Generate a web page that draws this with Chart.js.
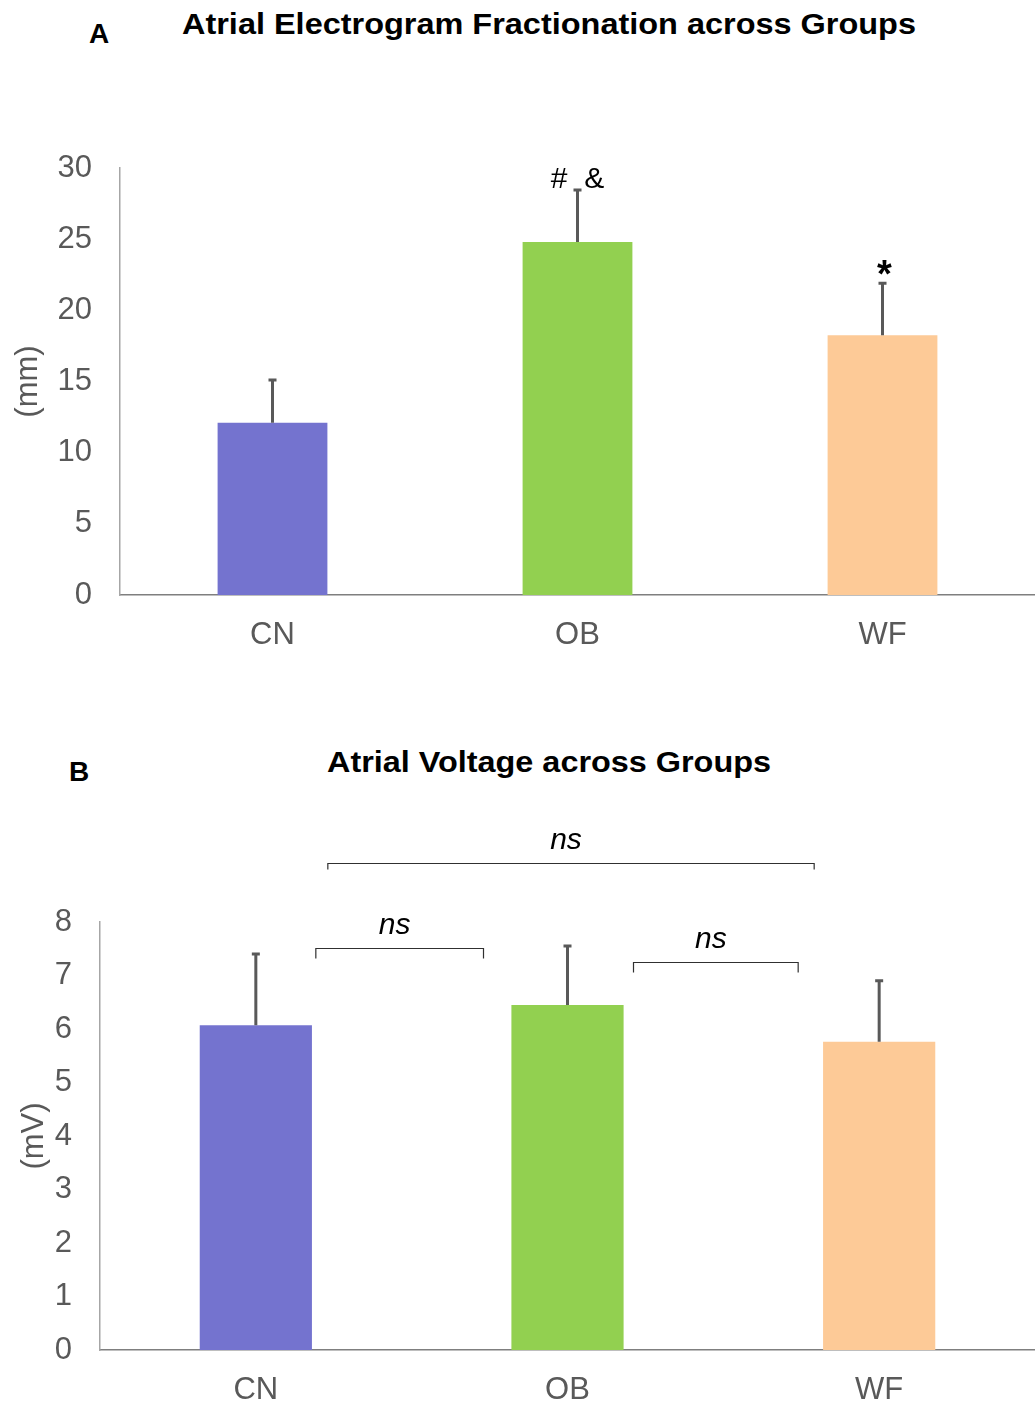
<!DOCTYPE html>
<html lang="en">
<head>
<meta charset="UTF-8">
<title>Atrial Electrogram Fractionation and Voltage</title>
<script src="https://cdn.jsdelivr.net/npm/chart.js"></script>
<style>
    body {
        margin: 0;
        background: #ffffff;
        font-family: "Liberation Sans", Arial, sans-serif;
    }
    .page {
        position: relative;
        width: 1035px;
        height: 1409px;
        overflow: hidden;
    }
    .panel {
        position: absolute;
        left: 0;
        width: 1035px;
    }
    .letter, .title {
        position: absolute;
        font-weight: bold;
        color: #000;
        white-space: nowrap;
        line-height: 1;
    }
    .letter { font-size: 28px; }
    .title { font-size: 29px; transform-origin: left top; }
</style>
</head>
<body>
<div class="page">
    <div class="letter" style="left:89px; top:20px;">A</div>
    <div class="title" id="titleA" data-w="734" style="left:182px; top:10px;">Atrial Electrogram Fractionation across Groups</div>
    <div class="panel" style="top:0; height:700px;"><canvas id="chartA" width="1035" height="700"></canvas></div>

    <div class="letter" style="left:69px; top:758px;">B</div>
    <div class="title" id="titleB" data-w="444" style="left:327px; top:748px;">Atrial Voltage across Groups</div>
    <div class="panel" style="top:700px; height:709px;"><canvas id="chartB" width="1035" height="709"></canvas></div>
</div>

<script>
    // Datos
    const groups = ['CN', 'OB', 'WF'];
    const barColors = ['#7473cf', '#92d050', '#fdca97'];

    const fractionationMean = [12.1, 24.8, 18.25];
    const fractionationSD = [3.0, 3.65, 3.65];
    const fractionationMarks = ['', '#  &', '*'];

    const voltageMean = [6.07, 6.45, 5.76];
    const voltageSD = [1.33, 1.1, 1.14];

    // comparaciones: [grupo a, grupo b], texto, nivel (mV)
    const voltagePairs = [[0, 1], [1, 2], [0, 2]];
    const voltagePairText = ['ns', 'ns', 'ns'];
    const voltagePairLevel = [7.51, 7.25, 9.1];

    const tickColor = '#595959';
    const font = 'Liberation Sans, Arial, sans-serif';

    // ajustar ancho de titulos
    document.querySelectorAll('.title').forEach(el => {
        const w = el.getBoundingClientRect().width;
        el.style.transform = 'scaleX(' + (parseFloat(el.dataset.w) / w) + ')';
    });

    // barras de error + marcas
    const errorBars = {
        id: 'errorBars',
        afterDatasetsDraw(chart, args, opts) {
            const ctx = chart.ctx;
            const meta = chart.getDatasetMeta(0);
            const y = chart.scales.y;
            ctx.save();
            ctx.strokeStyle = '#595959';
            ctx.lineWidth = 3;
            opts.sd.forEach((sd, i) => {
                const bar = meta.data[i];
                const top = y.getPixelForValue(opts.mean[i] + sd);
                ctx.beginPath();
                ctx.moveTo(bar.x, bar.y);
                ctx.lineTo(bar.x, top);
                ctx.moveTo(bar.x - 4, top);
                ctx.lineTo(bar.x + 4, top);
                ctx.stroke();
                const mark = opts.marks ? opts.marks[i] : '';
                if (mark) {
                    ctx.fillStyle = '#000';
                    ctx.textAlign = 'center';
                    ctx.textBaseline = 'alphabetic';
                    if (mark === '*') {
                        ctx.font = 'bold 38px ' + font;
                        ctx.fillText(mark, bar.x + 2, top + 4);
                    } else {
                        ctx.font = '30px ' + font;
                        ctx.fillText(mark, bar.x, top - 2);
                    }
                }
            });
            ctx.restore();
        }
    };

    // corchetes de comparacion
    const brackets = {
        id: 'brackets',
        afterDraw(chart, args, opts) {
            if (!opts.pairs) return;
            const ctx = chart.ctx;
            const x = chart.scales.x;
            const y = chart.scales.y;
            ctx.save();
            ctx.strokeStyle = '#303030';
            ctx.lineWidth = 1.2;
            ctx.fillStyle = '#000';
            ctx.font = 'italic 30px ' + font;
            ctx.textAlign = 'center';
            ctx.textBaseline = 'alphabetic';
            opts.pairs.forEach((p, k) => {
                const x0 = x.getPixelForValue(p[0]) + opts.inset[k][0];
                const x1 = x.getPixelForValue(p[1]) - opts.inset[k][1];
                const yy = Math.round(y.getPixelForValue(opts.levels[k])) + 0.5;
                const drop = opts.drop[k];
                ctx.beginPath();
                ctx.moveTo(x0, yy + drop);
                ctx.lineTo(x0, yy);
                ctx.lineTo(x1, yy);
                ctx.lineTo(x1, yy + drop);
                ctx.stroke();
                ctx.fillText(opts.text[k], (x0 + x1) / 2 - 5, yy - 15);
            });
            ctx.restore();
        }
    };

    function makeChart(id, mean, sd, cfg) {
        return new Chart(document.getElementById(id), {
            type: 'bar',
            data: {
                labels: groups,
                datasets: [{
                    data: mean,
                    backgroundColor: barColors,
                    borderWidth: 0,
                    categoryPercentage: 1,
                    barPercentage: 0.36
                }]
            },
            options: {
                responsive: false,
                animation: false,
                layout: { padding: { top: cfg.top, left: 0, right: 0, bottom: 0 } },
                plugins: {
                    legend: { display: false },
                    tooltip: { enabled: false },
                    errorBars: { mean: mean, sd: sd, marks: cfg.marks },
                    brackets: cfg.brackets || {}
                },
                scales: {
                    x: {
                        grid: { display: false, drawTicks: false },
                        border: { display: true, color: '#7f7f7f', width: 1.5 },
                        ticks: { color: tickColor, font: { size: 31, family: font }, padding: cfg.xPad },
                        afterFit: s => { s.height = cfg.xHeight; }
                    },
                    y: {
                        min: 0,
                        max: cfg.max,
                        grid: { display: false, drawTicks: false },
                        border: { display: true, color: '#a6a6a6', width: 1.5 },
                        ticks: { stepSize: cfg.step, color: tickColor, font: { size: 31, family: font }, padding: 28 },
                        title: {
                            display: true,
                            text: cfg.yTitle,
                            color: tickColor,
                            font: { size: 31, family: font },
                            padding: { top: cfg.titlePad, bottom: 0 }
                        },
                        afterFit: s => { s.width = cfg.yWidth; }
                    }
                }
            },
            plugins: [errorBars, brackets]
        });
    }

    makeChart('chartA', fractionationMean, fractionationSD, {
        top: 168, xHeight: 105, xPad: 22, yWidth: 120, max: 30, step: 5,
        yTitle: '(mm)', titlePad: 10, marks: fractionationMarks
    });

    makeChart('chartB', voltageMean, voltageSD, {
        top: 222, xHeight: 59, xPad: 22, yWidth: 100, max: 8, step: 1,
        yTitle: '(mV)', titlePad: 16,
        brackets: {
            pairs: voltagePairs,
            text: voltagePairText,
            levels: voltagePairLevel,
            inset: [[60, 84], [66, 81], [72, 65]],
            drop: [10, 10, 6]
        }
    });
</script>
</body>
</html>
